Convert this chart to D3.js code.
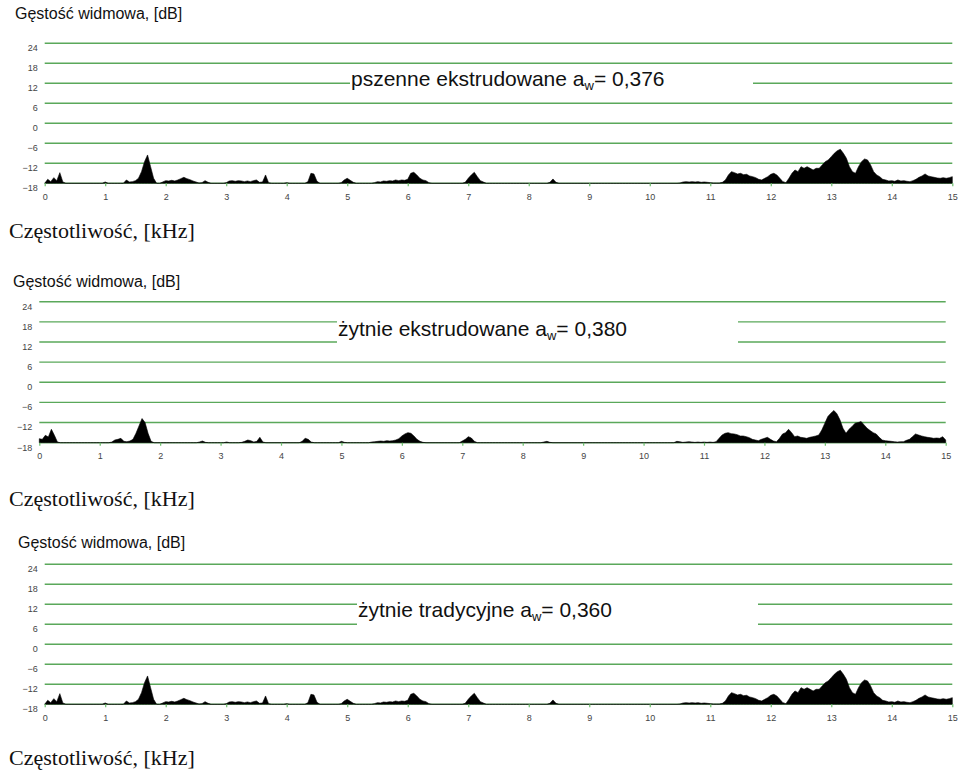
<!DOCTYPE html>
<html><head><meta charset="utf-8">
<script src="https://cdn.jsdelivr.net/npm/d3@7/dist/d3.min.js"></script>
<style>body{margin:0;background:#fff}svg{display:block}</style>
</head><body>
<svg id="chart" width="958" height="773"></svg>
<script>
// ---------- data ----------
const freqStepKHz = 0.05;               // spectrum sampled every 0.05 kHz, 0..15 kHz
const khzTicks = [0,1,2,3,4,5,6,7,8,9,10,11,12,13,14,15];
const dbTicks = [-18,-12,-6,0,6,12,18,24];
const yAxisTitle = "Gęstość widmowa, [dB]";
const xAxisTitle = "Częstotliwość, [kHz]";
const sampleNames = ["pszenne ekstrudowane", "żytnie ekstrudowane", "żytnie tradycyjne"];
const awValues = ["0,376", "0,380", "0,360"];

// spectral density [dB], one row per kHz (20 values), last value = 15 kHz
const spectrumPszenne = [
 -18,-16.8,-17.5,-16.3,-17.2,-14.8,-17.6,-18,-18,-18,-18,-18,-18,-18,-18,-18,-18,-18,-18,-18,
 -17.6,-18,-18,-18,-18,-18,-18,-17.0,-17.6,-17.5,-17.2,-16.5,-14.5,-11.5,-9.5,-13.0,-16.5,-18,-18,-17.6,
 -17.2,-17.3,-17.1,-17.3,-17.0,-16.6,-16.2,-16.6,-16.9,-17.3,-17.6,-17.9,-17.8,-17.2,-17.7,-18,-18,-18,-18,-18,
 -17.8,-17.3,-17.2,-17.4,-17.2,-17.3,-17.5,-17.3,-17.5,-17.2,-17.0,-17.7,-17.6,-15.5,-17.8,-18,-18,-18,-18,-18,
 -17.8,-18,-18,-18,-18,-18,-18,-17.5,-15.0,-15.2,-17.4,-18,-18,-18,-18,-18,-18,-18,-17.8,-17.0,
 -16.5,-17.1,-17.7,-18,-18,-18,-18,-18,-18,-17.8,-17.5,-17.6,-17.3,-17.4,-17.2,-17.3,-17.0,-17.2,-17.0,-17.1,
 -16.8,-15.0,-14.7,-15.5,-16.5,-17.0,-17.2,-17.8,-18,-18,-18,-18,-18,-18,-18,-18,-18,-18,-18,-17.7,
 -16.5,-15.5,-14.7,-16.0,-17.2,-17.6,-18,-18,-18,-18,-18,-18,-18,-18,-18,-18,-18,-18,-18,-18,
 -18,-18,-18,-18,-18,-18,-18,-17.7,-16.7,-17.7,-18,-18,-18,-18,-18,-18,-18,-18,-18,-18,
 -18,-18,-18,-18,-18,-18,-18,-18,-18,-18,-18,-18,-18,-18,-18,-18,-18,-18,-18,-18,
 -18,-18,-18,-18,-18,-18,-18,-18,-18,-18,-17.9,-17.6,-17.5,-17.6,-17.5,-17.6,-17.5,-17.7,-17.6,-17.7,
 -17.8,-17.9,-17.9,-17.9,-17.7,-17.0,-15.5,-14.5,-14.8,-15.2,-15.0,-15.4,-15.3,-15.8,-16.0,-16.3,-16.8,-17.0,-16.5,-16.0,
 -15.3,-15.0,-15.5,-16.5,-17.5,-17.8,-16.5,-15.0,-14.0,-14.5,-13.0,-13.5,-13.0,-13.5,-14.0,-13.5,-13.5,-12.5,-11.5,-11.0,
 -10.0,-9.0,-8.2,-7.8,-9.0,-10.5,-13.0,-14.5,-15.0,-13.0,-11.5,-10.7,-11.0,-12.5,-14.5,-15.5,-16.0,-16.8,-17.0,-17.3,
 -17.2,-17.4,-17.0,-17.3,-17.2,-17.4,-17.5,-17.2,-16.8,-16.2,-15.8,-15.2,-15.8,-16.0,-16.2,-16.4,-16.5,-16.3,-16.5,-16.3,
 -16.0
];

const spectrumZytnieEkstrudowane = [
 -16.8,-17.0,-15.8,-16.3,-14.0,-15.8,-17.8,-18,-18,-18,-18,-18,-18,-18,-18,-18,-18,-18,-18,-18,
 -18,-18,-18,-18,-17.8,-17.2,-17.0,-16.7,-17.6,-17.7,-17.5,-17.0,-15.2,-13.0,-10.8,-12.0,-15.2,-17.6,-18,-18,
 -18,-18,-18,-18,-18,-18,-18,-18,-18,-18,-18,-18,-18,-17.8,-17.5,-17.9,-18,-18,-18,-18,
 -18,-18,-17.8,-18,-18,-18,-18,-17.9,-17.6,-17.2,-17.4,-17.8,-17.6,-16.4,-17.8,-18,-18,-18,-18,-18,
 -18,-18,-18,-18,-18,-18,-18,-17.6,-16.7,-17.0,-17.8,-18,-18,-18,-18,-18,-18,-18,-18,-18,
 -17.6,-17.9,-18,-18,-18,-18,-18,-18,-18,-18,-17.8,-17.7,-17.6,-17.5,-17.6,-17.4,-17.5,-17.4,-17.2,-16.8,
 -16.0,-15.4,-15.0,-15.2,-16.0,-17.0,-17.6,-17.9,-18,-18,-18,-18,-18,-18,-18,-18,-18,-18,-18,-18,
 -17.5,-17.0,-16.2,-16.6,-17.6,-18,-18,-18,-18,-18,-18,-18,-18,-18,-18,-18,-18,-18,-18,-18,
 -18,-18,-18,-18,-18,-18,-18,-17.8,-17.6,-17.9,-18,-18,-18,-18,-18,-18,-18,-18,-18,-18,
 -18,-18,-18,-18,-18,-18,-18,-18,-18,-18,-18,-18,-18,-18,-18,-18,-18,-18,-18,-18,
 -18,-18,-18,-18,-18,-18,-18,-18,-18,-18,-18,-17.6,-17.7,-17.9,-17.8,-17.7,-17.8,-17.9,-17.8,-17.9,
 -17.8,-17.9,-17.8,-17.9,-17.7,-16.7,-15.7,-15.2,-15.0,-15.3,-15.4,-15.6,-16.0,-16.0,-16.2,-16.5,-17.0,-17.2,-17.4,-17.0,
 -16.7,-16.4,-17.0,-17.5,-17.7,-16.7,-15.4,-15.0,-14.0,-15.0,-16.2,-16.0,-16.4,-16.5,-16.7,-16.4,-16.2,-16.0,-15.7,-14.2,
 -12.2,-10.2,-9.2,-8.4,-9.4,-11.2,-13.7,-15.2,-14.0,-13.2,-12.2,-12.0,-11.7,-12.7,-13.7,-14.4,-15.0,-15.4,-16.4,-17.2,
 -17.4,-17.5,-17.6,-17.7,-17.8,-17.7,-17.7,-17.3,-17.0,-16.2,-15.4,-15.7,-16.0,-16.2,-16.4,-16.5,-16.7,-16.6,-16.7,-16.2,
 -17.2
];

const spectrumZytnieTradycyjne = [
 -18,-16.8,-17.5,-16.3,-17.2,-14.8,-17.6,-18,-18,-18,-18,-18,-18,-18,-18,-18,-18,-18,-18,-18,
 -17.6,-18,-18,-18,-18,-18,-18,-17.0,-17.6,-17.5,-17.2,-16.5,-14.5,-11.5,-9.5,-13.0,-16.5,-18,-18,-17.6,
 -17.2,-17.3,-17.1,-17.3,-17.0,-16.6,-16.2,-16.6,-16.9,-17.3,-17.6,-17.9,-17.8,-17.2,-17.7,-18,-18,-18,-18,-18,
 -17.8,-17.3,-17.2,-17.4,-17.2,-17.3,-17.5,-17.3,-17.5,-17.2,-17.0,-17.7,-17.6,-15.5,-17.8,-18,-18,-18,-18,-18,
 -17.8,-18,-18,-18,-18,-18,-18,-17.5,-15.0,-15.2,-17.4,-18,-18,-18,-18,-18,-18,-18,-17.8,-17.0,
 -16.5,-17.1,-17.7,-18,-18,-18,-18,-18,-18,-17.8,-17.5,-17.6,-17.3,-17.4,-17.2,-17.3,-17.0,-17.2,-17.0,-17.1,
 -16.8,-15.0,-14.7,-15.5,-16.5,-17.0,-17.2,-17.8,-18,-18,-18,-18,-18,-18,-18,-18,-18,-18,-18,-17.7,
 -16.5,-15.5,-14.7,-16.0,-17.2,-17.6,-18,-18,-18,-18,-18,-18,-18,-18,-18,-18,-18,-18,-18,-18,
 -18,-18,-18,-18,-18,-18,-18,-17.7,-16.7,-17.7,-18,-18,-18,-18,-18,-18,-18,-18,-18,-18,
 -18,-18,-18,-18,-18,-18,-18,-18,-18,-18,-18,-18,-18,-18,-18,-18,-18,-18,-18,-18,
 -18,-18,-18,-18,-18,-18,-18,-18,-18,-18,-17.9,-17.6,-17.5,-17.6,-17.5,-17.6,-17.5,-17.7,-17.6,-17.7,
 -17.8,-17.9,-17.9,-17.9,-17.7,-17.0,-15.5,-14.5,-14.8,-15.2,-15.0,-15.4,-15.3,-15.8,-16.0,-16.3,-16.8,-17.0,-16.5,-16.0,
 -15.3,-15.0,-15.5,-16.5,-17.5,-17.8,-16.5,-15.0,-14.0,-14.5,-13.0,-13.5,-13.0,-13.5,-14.0,-13.5,-13.5,-12.5,-11.5,-11.0,
 -10.0,-9.0,-8.2,-7.8,-9.0,-10.5,-13.0,-14.5,-15.0,-13.0,-11.5,-10.7,-11.0,-12.5,-14.5,-15.5,-16.0,-16.8,-17.0,-17.3,
 -17.2,-17.4,-17.0,-17.3,-17.2,-17.4,-17.5,-17.2,-16.8,-16.2,-15.8,-15.2,-15.8,-16.0,-16.2,-16.4,-16.5,-16.3,-16.5,-16.3,
 -16.0
];

const spectra = [spectrumPszenne, spectrumZytnieEkstrudowane, spectrumZytnieTradycyjne];

// ---------- layout ----------
const layout = [
  {x0:44.7, x1:952.3, yTop:43.3,  yBot:183.3, titleX:15, titleY:19,  axisLabelY:238, textX:351, textY:86,  gap:[350,753], gapDb:[12]},
  {x0:39.3, x1:945.7, yTop:301.7, yBot:442.7, titleX:13, titleY:287, axisLabelY:506, textX:338, textY:336, gap:[337,738], gapDb:[18,12]},
  {x0:44.7, x1:952.3, yTop:564.3, yBot:704.3, titleX:18, titleY:548, axisLabelY:765, textX:358, textY:617, gap:[357,758], gapDb:[12,6]}
];

const GRID = "#5aa85a", BASE = "#8fd08f";
const svg = d3.select("#chart");
svg.append("rect").attr("width",958).attr("height",773).attr("fill","#fff");

layout.forEach((L, p) => {
  const data = spectra[p];
  const x = d3.scaleLinear().domain([0,15]).range([L.x0, L.x1]);
  const y = d3.scaleLinear().domain([-18,24]).range([L.yBot, L.yTop]);
  const g = svg.append("g");

  // title
  g.append("text").attr("x", L.titleX).attr("y", L.titleY)
    .attr("font-family","Arial, 'Liberation Sans', sans-serif").attr("font-size",16).attr("fill","#111")
    .text(yAxisTitle);

  // grid lines
  g.selectAll("line.grid").data(dbTicks.filter(d => d > -18)).join("line")
    .attr("class","grid")
    .attr("x1", L.x0).attr("x2", L.x1)
    .attr("y1", d => y(d)).attr("y2", d => y(d))
    .attr("stroke", GRID).attr("stroke-width", 1.4);

  // gap behind sample text
  const gTop = y(d3.max(L.gapDb)) - 3, gBot = y(d3.min(L.gapDb)) + 3;
  g.append("rect").attr("x", L.gap[0]).attr("y", gTop)
    .attr("width", L.gap[1]-L.gap[0]).attr("height", gBot-gTop).attr("fill","#fff");

  // baseline
  g.append("line").attr("x1", L.x0).attr("x2", L.x1)
    .attr("y1", y(-18)).attr("y2", y(-18))
    .attr("stroke", BASE).attr("stroke-width", 1.6);

  // spectrum
  const area = d3.area()
    .x((d,i) => x(i*freqStepKHz))
    .y0(y(-18))
    .y1(d => y(d))
    .curve(d3.curveLinear);
  g.append("path").datum(data).attr("d", area).attr("fill","#000").attr("stroke","#000").attr("stroke-width",0.6);

  // x axis
  const xa = g.append("g").attr("transform", `translate(0,${y(-18)})`)
    .call(d3.axisBottom(x).tickValues(khzTicks).tickSize(3).tickPadding(7).tickFormat(d3.format("d")));
  xa.select(".domain").remove();
  xa.selectAll(".tick line").attr("stroke", "#6cbf6c").attr("stroke-width",1.2);
  xa.selectAll(".tick text").attr("font-family","Arial, sans-serif").attr("font-size",9).attr("fill","#444");

  // y axis labels
  const ya = g.append("g").attr("transform", `translate(${L.x0},0)`)
    .call(d3.axisLeft(y).tickValues(dbTicks).tickSize(0).tickPadding(7).tickFormat(d3.format("d")));
  ya.select(".domain").remove();
  ya.selectAll(".tick text").attr("font-family","Arial, sans-serif").attr("font-size",9).attr("fill","#444").attr("dy","0.82em");

  // sample label
  const t = g.append("text").attr("x", L.textX).attr("y", L.textY)
    .attr("font-family","Arial, 'Liberation Sans', sans-serif").attr("font-size",21).attr("fill","#111");
  t.append("tspan").text(sampleNames[p] + " a");
  t.append("tspan").attr("font-size",13).attr("dy",4).text("w");
  t.append("tspan").attr("dy",-4).text("= " + awValues[p]);

  // frequency label
  svg.append("text").attr("x", 9).attr("y", L.axisLabelY)
    .attr("font-family","'Times New Roman', 'Liberation Serif', serif").attr("font-size",22).attr("fill","#111")
    .text(xAxisTitle);
});
</script>
</body></html>
